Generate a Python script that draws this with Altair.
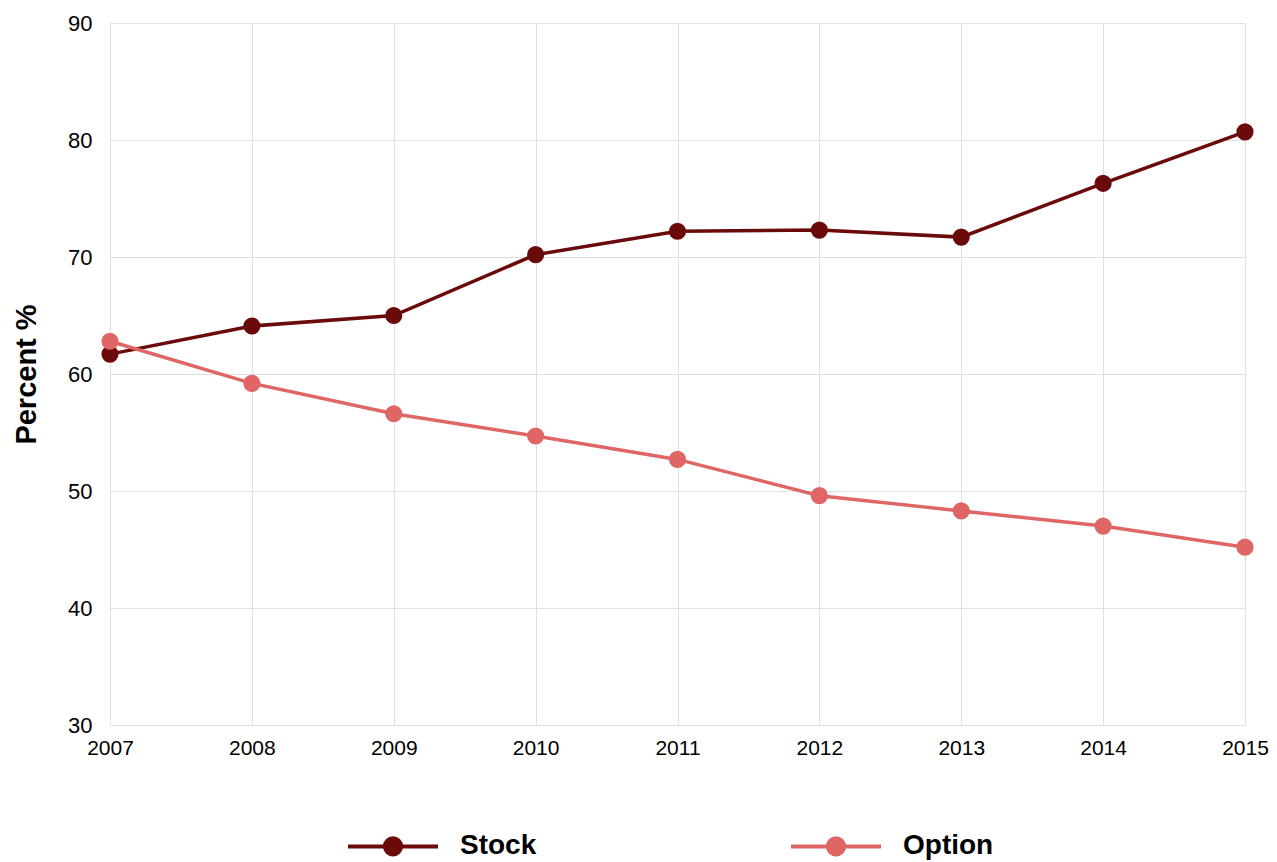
import altair as alt
import pandas as pd

years = [2007, 2008, 2009, 2010, 2011, 2012, 2013, 2014, 2015]
stock = [61.7, 64.1, 65.0, 70.2, 72.2, 72.3, 71.7, 76.3, 80.7]
option = [62.8, 59.2, 56.6, 54.7, 52.7, 49.6, 48.3, 47.0, 45.2]
series_names = ["Stock", "Option"]
series_colors = ["#6b0a0a", "#e06666"]

rows = []
for y, s, o in zip(years, stock, option):
    rows.append({"year": str(y), "series": "Stock", "value": s})
    rows.append({"year": str(y), "series": "Option", "value": o})
df = pd.DataFrame(rows)

sym = "M-1,0H1M-0.18,0A0.18,0.18,0,1,1,0.18,0A0.18,0.18,0,1,1,-0.18,0Z"

legend = alt.Legend(
    title=None, orient="none", direction="horizontal", columns=2,
    legendX=236, legendY=776,
    symbolType=sym, symbolSize=8100, symbolStrokeWidth=4,
    labelFontSize=28, labelFontWeight="bold", labelColor="#000000",
    labelFont="Liberation Sans", labelOffset=20, columnPadding=246,
    padding=0,
)

x = alt.X("year:O", scale=alt.Scale(padding=0), title=None,
          axis=alt.Axis(labelAngle=0, labelFontSize=21, labelPadding=12,
                        labelColor="#000000", labelFont="Liberation Sans",
                        grid=True, gridColor="#e0e0e0", ticks=False,
                        domain=False))
y = alt.Y("value:Q", scale=alt.Scale(domain=[30, 90], nice=False),
          title="Percent %",
          axis=alt.Axis(values=[30, 40, 50, 60, 70, 80, 90], labelFontSize=22,
                        labelPadding=18, labelColor="#000000",
                        labelFont="Liberation Sans", gridColor="#e0e0e0",
                        ticks=False, domain=False, titleFontSize=29,
                        titleFont="Liberation Sans", titleFontWeight="bold",
                        titleColor="#000000", titlePadding=26))

scale = alt.Scale(domain=series_names, range=series_colors)

base = alt.Chart(df)
lines = base.mark_line(strokeWidth=3.5).encode(
    x=x, y=y,
    stroke=alt.Stroke("series:N", scale=scale, sort=series_names, legend=legend),
    detail="series:N",
)
points = base.mark_point(filled=True, size=230, opacity=1).encode(
    x=x, y=y,
    fill=alt.Fill("series:N", scale=scale, sort=series_names, legend=legend),
    stroke=alt.Stroke("series:N", scale=scale, sort=series_names, legend=legend),
)

chart = alt.layer(lines, points).properties(
    width=1135, height=702,
    autosize=alt.AutoSizeParams(type="none"),
    padding={"left": 102, "top": 15, "right": 24, "bottom": 135},
).configure_view(stroke=None).configure(background="#ffffff")

chart.save("out.html", embed_options={"renderer": "svg", "actions": False})
